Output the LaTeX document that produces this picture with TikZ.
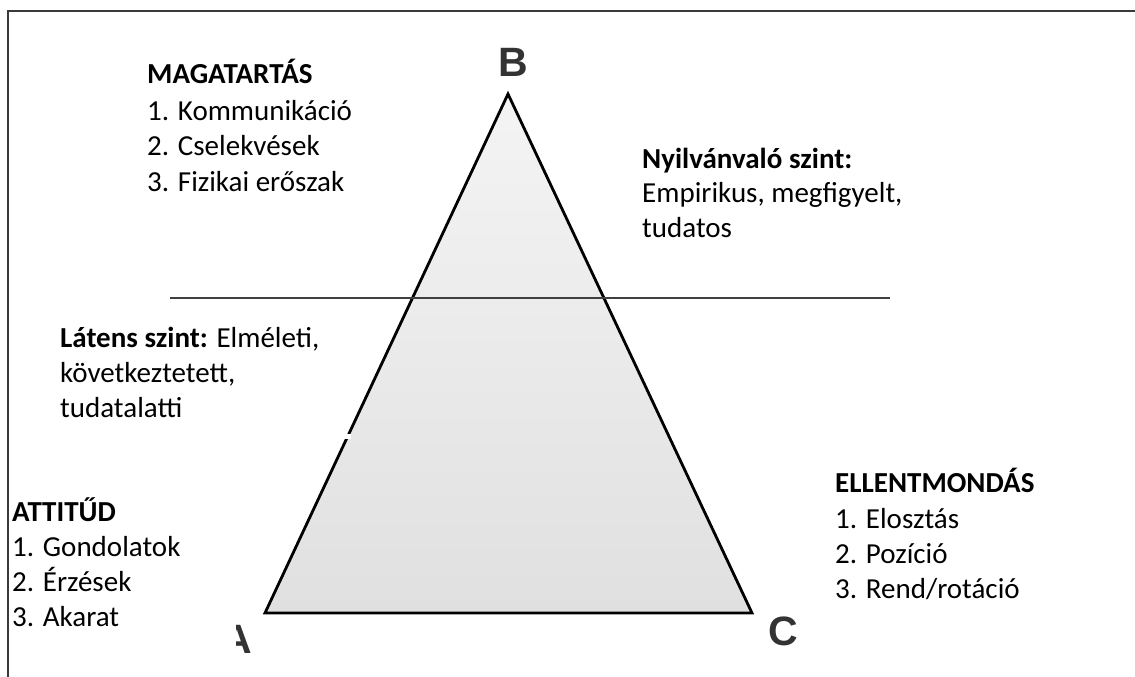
\documentclass[tikz,border=0pt]{standalone}
\usepackage{fontspec}
\setmainfont{Carlito}
\newfontfamily\letterfont{Liberation Sans}
\definecolor{framegray}{HTML}{3A3A3A}
\definecolor{linegray}{HTML}{404040}
\definecolor{lettergray}{HTML}{333333}
\definecolor{filltop}{HTML}{F4F4F4}
\definecolor{fillbottom}{HTML}{E0E0E0}
\begin{document}
\begin{tikzpicture}[x=1pt,y=-1pt,
  txt/.style={anchor=base west,inner sep=0pt,font=\fontsize{29}{35}\selectfont,text=black},
  btxt/.style={txt,font=\fontsize{29}{35}\selectfont\bfseries},
  vlabel/.style={anchor=base,inner sep=0pt,font=\letterfont\fontsize{41}{41}\selectfont\bfseries,text=lettergray}]
\useasboundingbox[fill=white] (0,0) rectangle (1135,677);
% frame (top and left only)
\coordinate (ftl) at (8,11);
\coordinate (ftr) at (1135,11);
\coordinate (fbl) at (8,677);
\draw[framegray,line width=1.6pt] (ftr) -- (ftl) -- (fbl);
% triangle
\coordinate (A) at (265,613);
\coordinate (B) at (508,94);
\coordinate (C) at (752,613);
\shade[top color=filltop,bottom color=fillbottom] (A) -- (B) -- (C) -- cycle;
\draw[black,line width=2.8pt,line join=miter] (A) -- (B) -- (C) -- cycle;
% small break in the left side
\fill[white] (342,434) rectangle (351,438.5);
% level line
\coordinate (L1) at (170,298);
\coordinate (L2) at (890,298);
\draw[linegray,line width=1.8pt] (L1) -- (L2);
% vertex letters
\node[vlabel] (lB) at (513,77) {B};
\begin{scope}
\clip (236,600) rectangle (300,677);
\node[vlabel] (lA) at (237.5,653) {A};
\end{scope}
\node[vlabel] (lC) at (783.5,645) {C};
% MAGATARTAS
\node[btxt] (m0) at (147,84) {MAGATARTÁS};
\node[txt] (m1) at (147,120) {1. Kommunikáció};
\node[txt] (m2) at (147,155) {2. Cselekvések};
\node[txt] (m3) at (147,191) {3. Fizikai erőszak};
% Nyilvanvalo
\node[btxt] (n0) at (642,168) {Nyilvánvaló szint:};
\node[txt] (n1) at (642,202) {Empirikus, megfigyelt,};
\node[txt] (n2) at (642,237) {tudatos};
% Latens
\node[txt] (l0) at (60,347) {\textbf{Látens szint:} Elméleti,};
\node[txt] (l1) at (60,382) {következtetett,};
\node[txt] (l2) at (60,417) {tudatalatti};
% ATTITUD
\node[btxt] (a0) at (12,521) {ATTITŰD};
\node[txt] (a1) at (12,556) {1. Gondolatok};
\node[txt] (a2) at (12,591) {2. Érzések};
\node[txt] (a3) at (12,626) {3. Akarat};
% ELLENTMONDAS
\node[btxt] (e0) at (835,492) {ELLENTMONDÁS};
\node[txt] (e1) at (835,528) {1. Elosztás};
\node[txt] (e2) at (835,563) {2. Pozíció};
\node[txt] (e3) at (835,598) {3. Rend/rotáció};
\end{tikzpicture}
\end{document}
